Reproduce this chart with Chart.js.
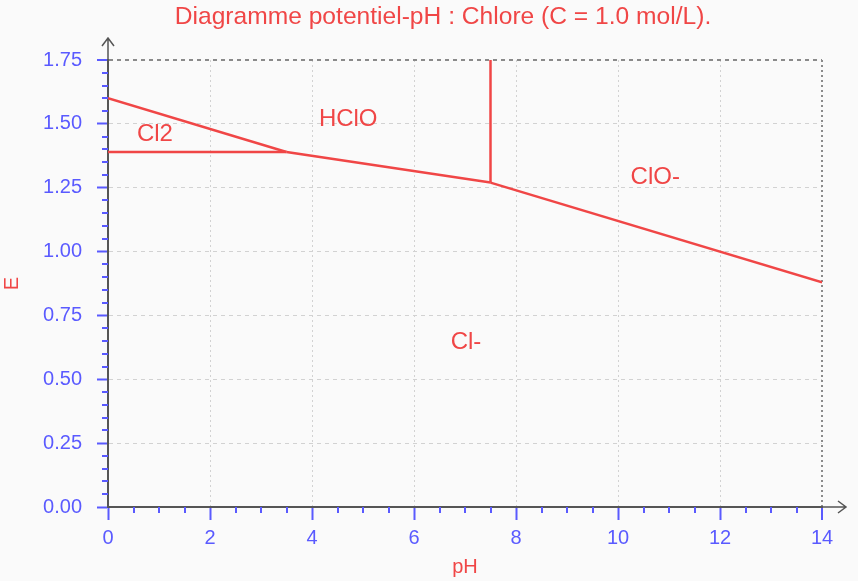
<!DOCTYPE html>
<html lang="fr">
<head>
<meta charset="utf-8">
<title>Diagramme potentiel-pH du chlore</title>
<script src="https://cdn.jsdelivr.net/npm/chart.js@4.4.1/dist/chart.umd.min.js"></script>
<style>
  body { margin: 0; background: #fafafa; }
  #cadre { width: 858px; height: 581px; }
</style>
</head>
<body>
<div id="cadre"><canvas id="graphe"></canvas></div>
<script>
// ============================================================
// Diagramme E-pH du chlore (C = 1.0 mol/L)
//
// Chaque frontière entre deux espèces est un petit segment :
//   Cl2 / HClO, Cl2 / Cl-, HClO / Cl-, HClO / ClO-, ClO- / Cl-
// Le titre et les noms des domaines sont écrits par un petit plugin.
// ============================================================

const frontiereCl2HClO  = [{ x: 0, y: 1.60 }, { x: 3.5, y: 1.39 }];
const frontiereCl2Cl    = [{ x: 0, y: 1.39 }, { x: 3.5, y: 1.39 }];
const frontiereHClOCl   = [{ x: 3.5, y: 1.39 }, { x: 7.5, y: 1.27 }];
const frontiereHClOClO  = [{ x: 7.5, y: 1.27 }, { x: 7.5, y: 1.75 }];
const frontiereClOCl    = [{ x: 7.5, y: 1.27 }, { x: 14, y: 0.88 }];

// noms des domaines et leur position (pH, E)
const especes     = ["Cl2", "HClO", "ClO-", "Cl-"];
const especesPH   = [0.92, 4.71, 10.73, 7.02];
const especesE    = [1.457, 1.519, 1.292, 0.646];

const titre = "Diagramme potentiel-pH : Chlore (C = 1.0 mol/L).";

// axes
const pHMin = 0, pHMax = 14, pasPH = 2, pasMineurPH = 0.5;
const EMin = 0, EMax = 1.75, pasE = 0.25, pasMineurE = 0.05;

const ROUGE = "#f04646";
const BLEU  = "#5a5aff";
const POLICE = "'Liberation Sans', Arial, sans-serif";

// ------------------------------------------------------------
// Fond, titre, petites graduations, flèches des axes
// et noms des espèces
// ------------------------------------------------------------
const decorPlugin = {
  id: "decor",
  beforeDraw(chart) {
    const ctx = chart.ctx;
    ctx.save();
    ctx.fillStyle = "#fafafa";
    ctx.fillRect(0, 0, chart.width, chart.height);
    ctx.restore();
  },
  afterDraw(chart) {
    const ctx = chart.ctx;
    const sx = chart.scales.x, sy = chart.scales.y;
    const x0 = sx.getPixelForValue(pHMin);
    const y0 = sy.getPixelForValue(EMin);
    ctx.save();

    // titre (un peu décalé vers la droite, comme dans l'original)
    ctx.fillStyle = ROUGE;
    ctx.font = "24.6px " + POLICE;
    ctx.textAlign = "center";
    ctx.textBaseline = "middle";
    ctx.fillText(titre, 443, 17);

    // graduations mineures
    ctx.strokeStyle = BLEU;
    ctx.lineWidth = 2;
    ctx.beginPath();
    const nE = Math.round((EMax - EMin) / pasMineurE);
    for (let i = 1; i < nE; i++) {
      if (i % Math.round(pasE / pasMineurE) === 0) continue;
      const y = Math.round(sy.getPixelForValue(EMin + i * pasMineurE));
      ctx.moveTo(x0 - 6, y);
      ctx.lineTo(x0, y);
    }
    const nPH = Math.round((pHMax - pHMin) / pasMineurPH);
    for (let i = 1; i < nPH; i++) {
      if (i % Math.round(pasPH / pasMineurPH) === 0) continue;
      const x = Math.round(sx.getPixelForValue(pHMin + i * pasMineurPH));
      ctx.moveTo(x, y0);
      ctx.lineTo(x, y0 + 6);
    }
    ctx.stroke();

    // flèches au bout des axes
    ctx.strokeStyle = "#555";
    ctx.lineWidth = 1.5;
    ctx.beginPath();
    ctx.moveTo(x0, chart.chartArea.top);
    ctx.lineTo(x0, chart.chartArea.top - 22);
    ctx.moveTo(x0 - 6, chart.chartArea.top - 14);
    ctx.lineTo(x0, chart.chartArea.top - 22);
    ctx.lineTo(x0 + 6, chart.chartArea.top - 14);
    ctx.moveTo(chart.chartArea.right, y0);
    ctx.lineTo(chart.chartArea.right + 24, y0);
    ctx.moveTo(chart.chartArea.right + 16, y0 - 6);
    ctx.lineTo(chart.chartArea.right + 24, y0);
    ctx.lineTo(chart.chartArea.right + 16, y0 + 6);
    ctx.stroke();

    // noms des domaines
    ctx.fillStyle = ROUGE;
    ctx.font = "24px " + POLICE;
    especes.forEach((nom, i) => {
      ctx.fillText(nom, sx.getPixelForValue(especesPH[i]), sy.getPixelForValue(especesE[i]));
    });
    ctx.restore();
  },
};

function segment(data) {
  return {
    data: data,
    showLine: true,
    borderColor: ROUGE,
    borderWidth: 2.5,
    pointRadius: 0,
    fill: false,
  };
}

const graphe = new Chart(document.getElementById("graphe"), {
  type: "scatter",
  data: {
    datasets: [
      segment(frontiereCl2HClO),
      segment(frontiereCl2Cl),
      segment(frontiereHClOCl),
      segment(frontiereHClOClO),
      segment(frontiereClOCl),
    ],
  },
  options: {
    animation: false,
    responsive: true,
    maintainAspectRatio: false,
    layout: { padding: { left: 0, right: 36, top: 60, bottom: 0 } },
    scales: {
      x: {
        type: "linear",
        min: pHMin,
        max: pHMax,
        afterFit: (s) => { s.height = 74; },
        title: { display: true, text: "pH", color: ROUGE, font: { family: POLICE, size: 20 }, padding: { top: 0, bottom: 2 } },
        ticks: { stepSize: pasPH, color: BLEU, font: { family: POLICE, size: 20 }, padding: 6 },
        grid: {
          color: (c) => c.tick.value === pHMin ? "rgba(0,0,0,0)" : c.tick.value === pHMax ? "#8a8a8a" : "#d2d2d2",
          lineWidth: (c) => c.tick.value === pHMax ? 2 : 1,
          tickColor: BLEU,
          tickWidth: 2,
          tickLength: 13,
        },
        border: { color: "#555", width: 2, dash: [2, 3] },
      },
      y: {
        type: "linear",
        min: EMin,
        max: EMax,
        afterFit: (s) => { s.width = 108; },
        title: { display: true, text: "E", color: ROUGE, font: { family: POLICE, size: 20 }, padding: { top: 0, bottom: 0 } },
        ticks: {
          stepSize: pasE,
          color: BLEU,
          font: { family: POLICE, size: 20 },
          padding: 15,
          callback: (v) => v.toFixed(2),
        },
        grid: {
          color: (c) => c.tick.value === EMin ? "rgba(0,0,0,0)" : c.tick.value === EMax ? "#8a8a8a" : "#d2d2d2",
          lineWidth: (c) => c.tick.value === EMax ? 2 : 1,
          tickColor: BLEU,
          tickWidth: 2,
          tickLength: 11,
        },
        border: { color: "#555", width: 2, dash: [4, 4] },
      },
    },
    plugins: {
      legend: { display: false },
      tooltip: { enabled: false },
      title: { display: false },
    },
  },
  plugins: [decorPlugin],
});
</script>
</body>
</html>
